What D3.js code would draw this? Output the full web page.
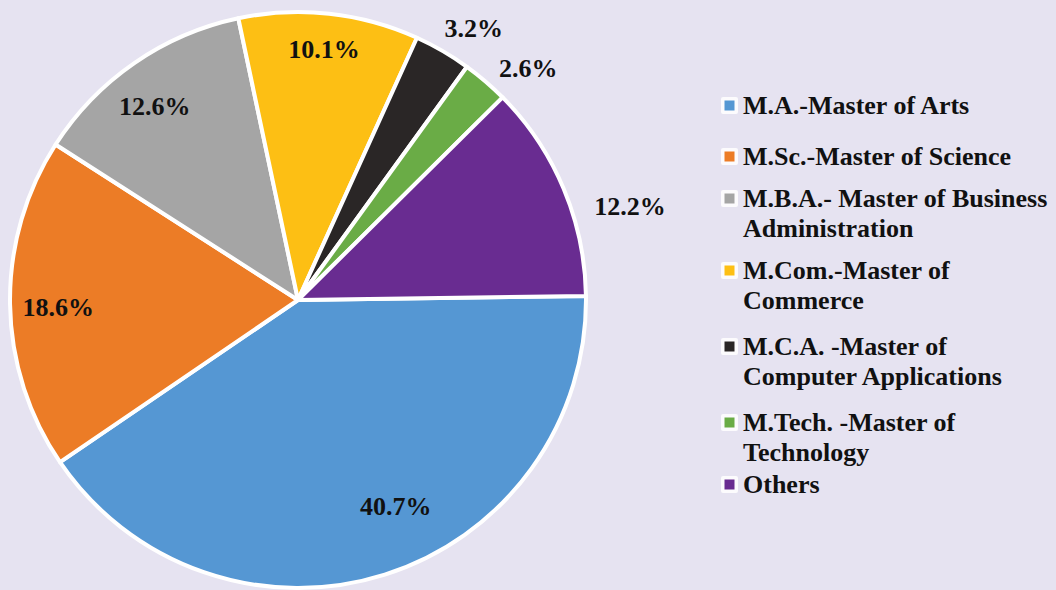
<!DOCTYPE html>
<html>
<head>
<meta charset="utf-8">
<script src="https://cdn.jsdelivr.net/npm/d3@7"></script>
<style>
  html, body { margin: 0; padding: 0; background: #E6E3F1; }
  svg { display: block; }
  text { font-family: "Liberation Serif", "Times New Roman", serif; font-weight: bold; fill: #111; }
</style>
</head>
<body>
<svg id="chart" width="1056" height="590"></svg>
<script>
// ---- data ----
const categories = [
  "M.A.-Master of Arts",
  "M.Sc.-Master of Science",
  "M.B.A.- Master of Business Administration",
  "M.Com.-Master of Commerce",
  "M.C.A. -Master of Computer Applications",
  "M.Tech. -Master of Technology",
  "Others"
];
const legendLines = [
  ["M.A.-Master of Arts"],
  ["M.Sc.-Master of Science"],
  ["M.B.A.- Master of Business", "Administration"],
  ["M.Com.-Master of", "Commerce"],
  ["M.C.A. -Master of", "Computer Applications"],
  ["M.Tech. -Master of", "Technology"],
  ["Others"]
];
const values = [40.7, 18.6, 12.6, 10.1, 3.2, 2.6, 12.2];
const colors = ["#5597D3", "#EC7C26", "#A5A5A5", "#FDBF14", "#2A2626", "#6AAC46", "#692C91"];

// label placement (fraction of radius, angular nudge in degrees)
const labelRadius = [0.79, 0.833, 0.837, 0.876, 1.125, 1.135, 1.198];
const labelNudge = [-7.9, -0.9, -1.8, -0.3, 2.7, 4.2, 7.0];

// ---- layout ----
const svg = d3.select("#chart");
const cx = 298, cy = 300, R = 288;
const startA = (89.2) * Math.PI / 180;

const pie = d3.pie().sort(null).value(d => d)
  .startAngle(startA).endAngle(startA + 2 * Math.PI);
const arcs = pie(values);
const arc = d3.arc().innerRadius(0).outerRadius(R);

const g = svg.append("g").attr("transform", `translate(${cx},${cy})`);
g.selectAll("path.slice").data(arcs).enter().append("path")
  .attr("class", "slice")
  .attr("d", arc)
  .attr("fill", (d, i) => colors[i])
  .attr("stroke", "#fff")
  .attr("stroke-width", 4)
  .attr("stroke-linejoin", "round");

g.selectAll("text.lbl").data(arcs).enter().append("text")
  .attr("class", "lbl")
  .attr("x", (d, i) => {
    const a = (d.startAngle + d.endAngle) / 2 + labelNudge[i] * Math.PI / 180;
    return Math.sin(a) * R * labelRadius[i];
  })
  .attr("y", (d, i) => {
    const a = (d.startAngle + d.endAngle) / 2 + labelNudge[i] * Math.PI / 180;
    return -Math.cos(a) * R * labelRadius[i];
  })
  .attr("dy", "0.35em")
  .attr("text-anchor", "middle")
  .style("font-size", "26px")
  .text(d => d.value.toFixed(1) + "%");

// ---- legend ----
const legendBase = [114, 165, 207, 279, 355, 431, 493];
const lineGap = 30;
const lg = svg.append("g");
legendLines.forEach((lines, i) => {
  const row = lg.append("g");
  row.append("rect")
    .attr("x", 721).attr("y", legendBase[i] - 17)
    .attr("width", 17).attr("height", 17)
    .attr("rx", 2)
    .attr("fill", "#fff").attr("opacity", 0.85);
  row.append("rect")
    .attr("x", 724.5).attr("y", legendBase[i] - 13.5)
    .attr("width", 10).attr("height", 10)
    .attr("fill", colors[i]);
  lines.forEach((t, j) => {
    row.append("text")
      .attr("x", 743)
      .attr("y", legendBase[i] + j * lineGap)
      .style("font-size", "26px")
      .text(t);
  });
});
</script>
</body>
</html>
